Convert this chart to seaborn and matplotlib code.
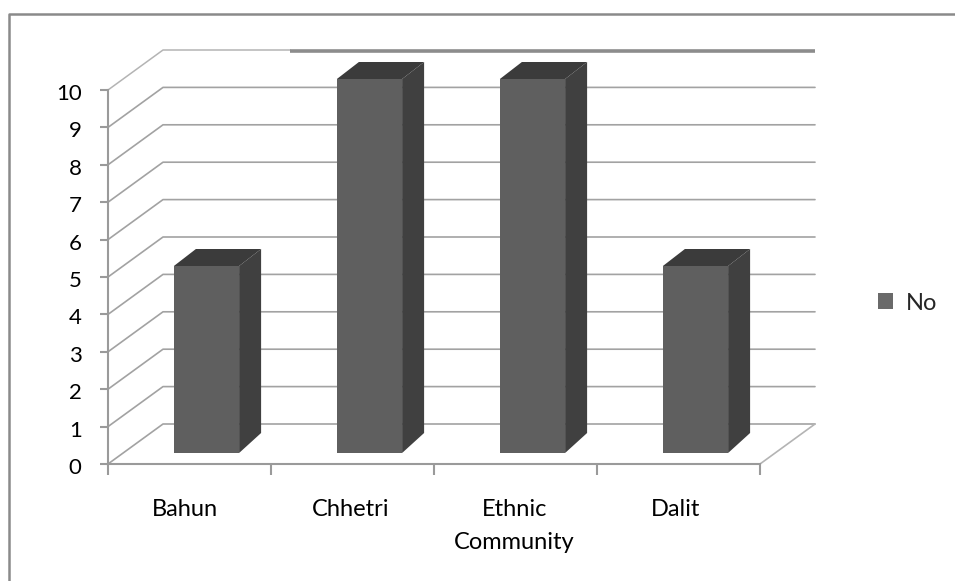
import matplotlib
matplotlib.use("Agg")
import matplotlib.pyplot as plt
import pandas as pd
import seaborn as sns
from matplotlib.lines import Line2D
from matplotlib.patches import Polygon
from matplotlib.transforms import Affine2D, IdentityTransform

communities = ["Bahun", "Chhetri", "Ethnic\nCommunity", "Dalit"]
responses_no = [5, 10, 10, 5]
y_ticks = list(range(0, 11))
series_name = "No"

W, H = 955, 581
GRID = "#a2a2a2"
AXIS = "#9a9a9a"
FRONT = "#5f5f5f"
DARK = "#404040"
TOP = "#3b3b3b"

sns.set_theme(style="white")
plt.rcParams["font.family"] = ["Lato", "DejaVu Sans"]

fig = plt.figure(figsize=(W / 100, H / 100), dpi=100, facecolor="white")
ax = fig.add_axes([108 / W, (H - 464) / H, 652 / W, 374 / H])
ax.patch.set_alpha(0)

df = pd.DataFrame({"community": communities, "value": responses_no, "series": series_name})
sns.barplot(data=df, x="community", y="value", hue="series", palette=[FRONT],
            width=0.4, ax=ax, legend=False, zorder=4, saturation=1)
ax.set_xlim(-0.5, 3.5)
ax.set_ylim(0, 10)
ax.set_xlabel("")
ax.set_ylabel("")

# Depth of the chart box and of each column, in pixels.
BOX_DX, BOX_DY = 55, 40
BAR_SHIFT = Affine2D().translate(17, 11)
BAR_DX, BAR_DY = 22, 17


def line_px(xs, ys, **kw):
    ax.add_line(Line2D(xs, ys, transform=IdentityTransform(), clip_on=False, **kw))


# Back wall grid lines with their slanted side-wall segments.
to_px = ax.transData.transform
for v in y_ticks:
    x0, y0 = to_px((-0.5, v))
    x1, _ = to_px((3.5, v))
    if v == 10:
        split = x0 + 182
        line_px([x0, x0 + BOX_DX, split], [y0, y0 + BOX_DY, y0 + BOX_DY], color="#b4b4b4", lw=1.1, zorder=1)
        line_px([split, x1 + BOX_DX], [y0 + BOX_DY - 1, y0 + BOX_DY - 1], color="#8c8c8c", lw=2.6, zorder=1,
                solid_capstyle="butt")
    else:
        line_px([x0, x0 + BOX_DX, x1 + BOX_DX], [y0, y0 + BOX_DY, y0 + BOX_DY], color=GRID, lw=1.2, zorder=1)

# Floor edge on the right.
xr, yr = to_px((3.5, 0))
line_px([xr, xr + BOX_DX], [yr, yr + BOX_DY], color="#b4b4b4", lw=1.2, zorder=1)

# Front faces come from the bar plot; side and top faces extend from them.
for bar in ax.patches:
    bar.set_transform(ax.transData + BAR_SHIFT)
    bar.set_clip_on(False)
    bar.set_edgecolor("none")
    (x0, y0), (x1, y1) = (ax.transData + BAR_SHIFT).transform(
        [(bar.get_x(), bar.get_y()), (bar.get_x() + bar.get_width(), bar.get_y() + bar.get_height())]
    )
    side = [(x1, y0), (x1 + BAR_DX, y0 + BAR_DY + 3), (x1 + BAR_DX, y1 + BAR_DY), (x1, y1)]
    top = [(x0, y1), (x0 + BAR_DX, y1 + BAR_DY), (x1 + BAR_DX, y1 + BAR_DY), (x1, y1)]
    ax.add_patch(Polygon(side, closed=True, fc=DARK, ec="none", transform=IdentityTransform(),
                         clip_on=False, zorder=3))
    ax.add_patch(Polygon(top, closed=True, fc=TOP, ec="none", transform=IdentityTransform(),
                         clip_on=False, zorder=3))

sns.despine(ax=ax)
for name in ("left", "bottom"):
    ax.spines[name].set_color(AXIS)
    ax.spines[name].set_linewidth(1.5)
    ax.spines[name].set_zorder(2)

ax.set_yticks(y_ticks)
ax.tick_params(axis="y", length=6, width=1.5, color=AXIS, labelsize=16, labelcolor="black", pad=13, left=True)
for lab in ax.get_yticklabels():
    lab.set_transform(lab.get_transform() + Affine2D().translate(0, -2))

# Ticks fall between categories, labels sit near the category centres.
ax.set_xticks([-0.5, 0.5, 1.5, 2.5, 3.5])
ax.set_xticklabels([])
ax.set_xticks([-0.025, 0.99, 1.995, 2.985], minor=True)
ax.set_xticklabels(communities, minor=True, fontsize=17, color="black", linespacing=1.66, va="top")
ax.tick_params(axis="x", which="major", length=8, width=1.5, color=AXIS, bottom=True)
ax.tick_params(axis="x", which="minor", length=0, pad=25.5, bottom=False)

# Legend square and label.
handle = Polygon([(0, 0)], fc="#6a6a6a", ec="none")
fig.legend([handle], [series_name], loc="center left",
           bbox_to_anchor=(878 / W, (H - 303) / H), frameon=False, fontsize=17, borderaxespad=0,
           handlelength=0.64, handleheight=0.64, handletextpad=0.55, borderpad=0)

# Chart frame along the top and left edges.
fig.add_artist(Line2D([9, 9, 955], [0, H - 14, H - 14], transform=IdentityTransform(),
                      color="#8a8a8a", lw=1.8))

fig.savefig("out.png", dpi=100, facecolor="white")
